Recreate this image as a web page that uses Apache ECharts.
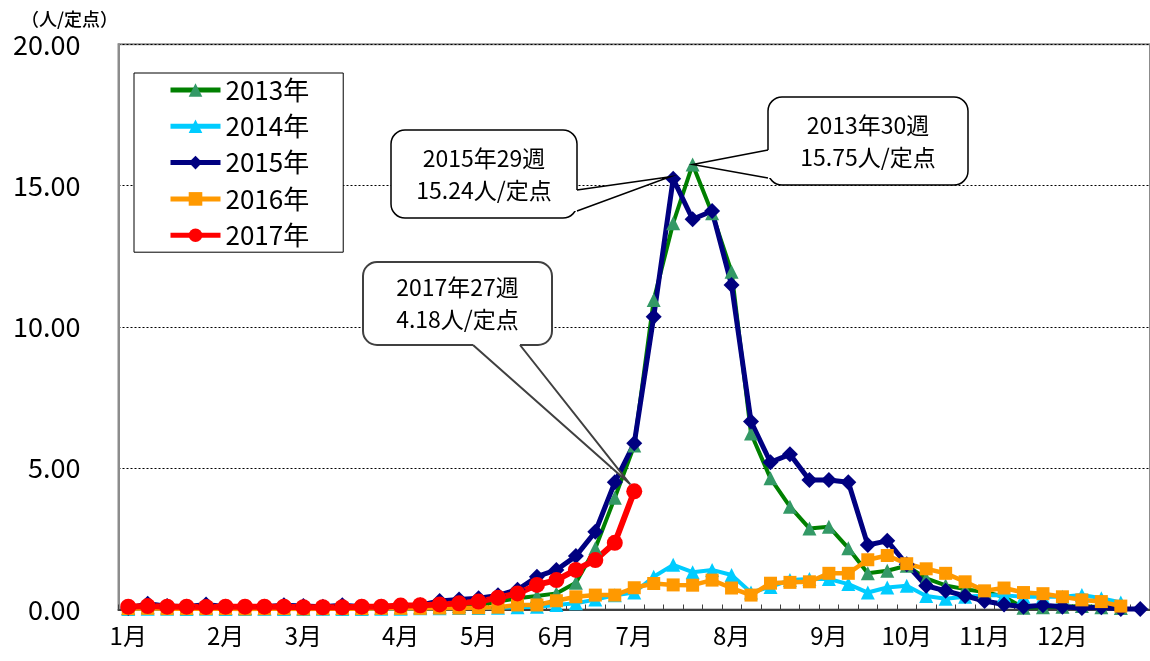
<!DOCTYPE html>
<html>
<head>
<meta charset="utf-8">
<script src="https://cdn.jsdelivr.net/npm/echarts@6/dist/echarts.min.js"></script>
<style>
html,body{margin:0;padding:0;background:#fff;}
#chart{width:1150px;height:661px;}
</style>
</head>
<body>
<div id="chart"></div>
<script>
// ---- data ----
var weeks = [];
for (var i = 1; i <= 53; i++) weeks.push(String(i));
var monthWeeks = [1, 6, 10, 15, 19, 23, 27, 32, 37, 41, 45, 49];
var monthNames = ['1月','2月','3月','4月','5月','6月','7月','8月','9月','10月','11月','12月'];
var yTicks = [0, 5, 10, 15, 20];

var seriesNames = ['2013年','2014年','2015年','2016年','2017年'];
var y2013 = [0.05,0.08,0.07,0.06,0.06,0.05,0.05,0.04,0.05,0.04,0.04,0.05,0.05,0.06,0.07,0.08,0.10,0.12,0.15,0.28,0.40,0.48,0.57,0.95,2.17,3.95,5.80,10.95,13.67,15.75,14.02,11.95,6.23,4.64,3.64,2.87,2.93,2.17,1.28,1.37,1.55,1.10,0.85,0.72,0.62,0.45,0.06,0.08,0.10,0.12,0.08,0.05];
var y2014 = [0.02,0.03,0.03,0.02,0.03,0.02,0.02,0.03,0.02,0.02,0.03,0.02,0.02,0.03,0.03,0.04,0.04,0.05,0.05,0.06,0.08,0.10,0.16,0.22,0.35,0.50,0.60,1.16,1.58,1.32,1.40,1.22,0.60,0.80,1.04,1.08,1.08,0.90,0.60,0.78,0.84,0.48,0.38,0.45,0.50,0.50,0.45,0.45,0.45,0.51,0.40,0.25];
var y2015 = [0.05,0.20,0.12,0.10,0.18,0.10,0.10,0.10,0.15,0.12,0.10,0.15,0.10,0.10,0.12,0.15,0.30,0.35,0.40,0.50,0.70,1.16,1.40,1.89,2.75,4.50,5.88,10.36,15.24,13.81,14.10,11.48,6.65,5.21,5.49,4.58,4.58,4.50,2.28,2.43,1.60,0.84,0.66,0.48,0.30,0.18,0.10,0.15,0.10,0.05,0.08,0.02,0.02];
var y2016 = [0.03,0.04,0.03,0.03,0.03,0.03,0.02,0.03,0.03,0.02,0.03,0.03,0.03,0.04,0.04,0.04,0.05,0.05,0.06,0.08,0.16,0.16,0.31,0.45,0.51,0.51,0.77,0.92,0.87,0.86,1.04,0.76,0.51,0.93,0.96,0.98,1.28,1.28,1.76,1.91,1.62,1.44,1.28,0.98,0.66,0.76,0.60,0.56,0.45,0.34,0.28,0.12];
var y2017 = [0.10,0.12,0.10,0.10,0.09,0.10,0.10,0.10,0.10,0.08,0.08,0.08,0.10,0.10,0.14,0.15,0.18,0.22,0.28,0.42,0.57,0.87,1.04,1.40,1.75,2.36,4.18];

var callouts = [
  {series: 2, week: 29, lines: ['2015年29週', '15.24人/定点']},
  {series: 0, week: 30, lines: ['2013年30週', '15.75人/定点']},
  {series: 4, week: 27, lines: ['2017年27週', '4.18人/定点']}
];

var FONT = "'Noto Sans CJK JP', 'Noto Sans', sans-serif";
var chart = echarts.init(document.getElementById('chart'));

function mk(name, data, lineColor, markColor, symbol, size, width) {
  return {
    name: name, type: 'line', data: data, symbol: symbol, symbolSize: size,
    showAllSymbol: true,
    lineStyle: {color: lineColor, width: width},
    itemStyle: {color: markColor, borderWidth: 0},
    emphasis: {disabled: true},
    animation: false
  };
}

var option = {
  animation: false,
  title: {
    text: '（人/定点）', left: 16, top: 5,
    textStyle: {fontFamily: FONT, fontSize: 18, fontWeight: 500, color: '#000'}
  },
  grid: {
    left: 118.5, top: 44.3, width: 1033.7, height: 565.2,
    show: true, borderColor: '#8c8c8c', borderWidth: 2, backgroundColor: '#fff'
  },
  legend: {
    orient: 'vertical', left: 134, top: 73,
    data: seriesNames,
    itemWidth: 50, itemHeight: 17, itemGap: 8.3,
    padding: [3, 34, 3, 34],
    lineStyle: {width: 5},
    borderColor: '#000', borderWidth: 1, backgroundColor: '#fff',
    textStyle: {fontFamily: FONT, fontSize: 26, lineHeight: 28, color: '#000'}
  },
  xAxis: {
    type: 'category', data: weeks, boundaryGap: true,
    axisLine: {lineStyle: {color: '#404040', width: 2}},
    axisTick: {show: true, inside: true, length: 5, interval: 0, lineStyle: {color: '#404040', width: 1}},
    axisLabel: {
      interval: 0, margin: 14, fontFamily: FONT, fontSize: 24, color: '#000',
      formatter: function (v) {
        var k = monthWeeks.indexOf(Number(v));
        return k >= 0 ? monthNames[k] : '';
      }
    },
    splitLine: {show: false}
  },
  yAxis: {
    type: 'value', min: yTicks[0], max: yTicks[yTicks.length - 1], interval: yTicks[1] - yTicks[0],
    axisLine: {show: true, lineStyle: {color: '#8c8c8c', width: 2}},
    axisTick: {show: false},
    axisLabel: {margin: 38, fontFamily: FONT, fontSize: 27, color: '#000',
      formatter: function (v) { return v.toFixed(2); }},
    splitLine: {show: true, lineStyle: {color: '#000', width: 1, type: [2, 2]}}
  },
  series: [
    mk(seriesNames[0], y2013, '#008000', '#339966', 'triangle', 14, 4),
    mk(seriesNames[1], y2014, '#00CCFF', '#00CCFF', 'triangle', 14, 4),
    mk(seriesNames[2], y2015, '#000080', '#000080', 'diamond', 16, 5),
    mk(seriesNames[3], y2016, '#FF9900', '#FF9900', 'rect', 13, 4.5),
    mk(seriesNames[4], y2017, '#FF0000', '#FF0000', 'circle', 16, 6)
  ]
};
chart.setOption(option);

// ---- callouts (boxes placed in layout, pointer tip from data via axes) ----
var allData = [y2013, y2014, y2015, y2016, y2017];
var boxes = [
  {x: 391, y: 130, w: 186, h: 88, side: 'right', b1: 190, b2: 211, stroke: '#000', lw: 1.5, tipOff: [-3, -2]},
  {x: 768, y: 97, w: 200, h: 88, side: 'left', b1: 150, b2: 178, stroke: '#000', lw: 1.5, tipOff: [0, 0]},
  {x: 363, y: 262, w: 189, h: 83, side: 'bottom', b1: 473, b2: 520, stroke: '#404040', lw: 2, tipOff: [-4, -7]}
];
var g = [];
callouts.forEach(function (c, i) {
  var b = boxes[i];
  var p = chart.convertToPixel({gridIndex: 0}, [String(c.week), allData[c.series][c.week - 1]]);
  var tip = [p[0] + b.tipOff[0], p[1] + b.tipOff[1]];
  var p1, p2, p1i, p2i;
  if (b.side === 'right') {
    p1 = [b.x + b.w, b.b1]; p2 = [b.x + b.w, b.b2];
    p1i = [p1[0] - 3, p1[1]]; p2i = [p2[0] - 3, p2[1]];
  } else if (b.side === 'left') {
    p1 = [b.x, b.b1]; p2 = [b.x, b.b2];
    p1i = [p1[0] + 3, p1[1]]; p2i = [p2[0] + 3, p2[1]];
  } else {
    p1 = [b.b1, b.y + b.h]; p2 = [b.b2, b.y + b.h];
    p1i = [p1[0], p1[1] - 3]; p2i = [p2[0], p2[1] - 3];
  }
  g.push({type: 'rect', z: 100, shape: {x: b.x, y: b.y, width: b.w, height: b.h, r: 14},
    style: {fill: '#fff', stroke: b.stroke, lineWidth: b.lw}});
  g.push({type: 'polygon', z: 101, shape: {points: [p1i, p1, tip, p2, p2i]},
    style: {fill: '#fff', stroke: null}});
  g.push({type: 'polyline', z: 102, shape: {points: [p1, tip, p2]},
    style: {fill: null, stroke: b.stroke, lineWidth: b.lw}});
  g.push({type: 'text', z: 103, x: b.x + b.w / 2, y: b.y + b.h / 2,
    style: {text: c.lines.join('\n'), fontFamily: FONT, fontSize: 23, lineHeight: 32,
      fill: '#000', align: 'center', verticalAlign: 'middle'}});
});
chart.setOption({graphic: g});
</script>
</body>
</html>
